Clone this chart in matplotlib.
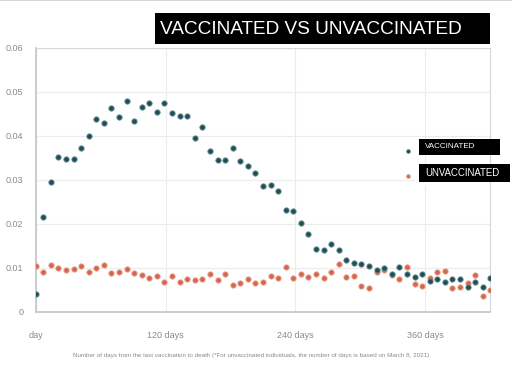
import matplotlib
matplotlib.use("Agg")
import matplotlib.pyplot as plt
import matplotlib.patches as mpatches

plt.rcParams['font.family'] = ['Liberation Sans', 'DejaVu Sans']

days = [7 * i for i in range(61)]
vaccinated = [0.0040, 0.0215, 0.0294, 0.0352, 0.0348, 0.0348, 0.0371, 0.0399, 0.0439, 0.0428,
              0.0464, 0.0443, 0.0479, 0.0434, 0.0466, 0.0474, 0.0455, 0.0474, 0.0451, 0.0445,
              0.0445, 0.0395, 0.0419, 0.0365, 0.0345, 0.0345, 0.0373, 0.0342, 0.0332, 0.0315,
              0.0286, 0.0288, 0.0274, 0.0231, 0.0229, 0.0202, 0.0177, 0.0143, 0.0140, 0.0154,
              0.0141, 0.0118, 0.0111, 0.0108, 0.0105, 0.0095, 0.0100, 0.0086, 0.0102, 0.0086,
              0.0080, 0.0086, 0.0070, 0.0075, 0.0068, 0.0074, 0.0075, 0.0056, 0.0068, 0.0056,
              0.0076]
unvaccinated = [0.0104, 0.0090, 0.0106, 0.0100, 0.0095, 0.0096, 0.0104, 0.0091, 0.0099, 0.0107,
                0.0087, 0.0090, 0.0097, 0.0087, 0.0083, 0.0076, 0.0081, 0.0068, 0.0082, 0.0068,
                0.0074, 0.0073, 0.0074, 0.0086, 0.0071, 0.0086, 0.0060, 0.0065, 0.0074, 0.0066,
                0.0067, 0.0082, 0.0077, 0.0101, 0.0077, 0.0086, 0.0080, 0.0086, 0.0077, 0.0091,
                0.0108, 0.0079, 0.0081, 0.0058, 0.0053, 0.0090, 0.0095, 0.0083, 0.0074, 0.0102,
                0.0064, 0.0058, 0.0076, 0.0090, 0.0092, 0.0055, 0.0056, 0.0066, 0.0084, 0.0035,
                0.0050]
x_ticks = [0, 120, 240, 360]
x_labels = ["day", "120 days", "240 days", "360 days"]
y_ticks = [0, 0.01, 0.02, 0.03, 0.04, 0.05, 0.06]
y_labels = ["0", "0.01", "0.02", "0.03", "0.04", "0.05", "0.06"]
title = "VACCINATED VS UNVACCINATED"
legend_labels = ["VACCINATED", "UNVACCINATED"]
footnote = ("Number of days from the last vaccination to death (*For unvaccinated individuals, "
            "the number of days is based on March 8, 2021)")

teal = "#1d4e56"
teal_edge = "#6f9599"
orange = "#d4664b"
orange_edge = "#eba693"

fig = plt.figure(figsize=(5.12, 3.91), dpi=100)
fig.patch.set_facecolor("white")
ax = fig.add_axes([0.0697, 0.2028, 0.8879, 0.6752])

ax.set_xlim(0, 420)
ax.set_ylim(0, 0.06)
ax.set_xticks(x_ticks)
ax.set_xticklabels(x_labels)
ax.set_yticks(y_ticks)
ax.set_yticklabels(y_labels)
ax.tick_params(axis='both', length=0, colors="#8a8a8a", labelsize=6.5)
ax.tick_params(axis='x', pad=14)
ax.tick_params(axis='y', pad=9)
ax.grid(True, color="#ececec", linewidth=0.8)
ax.set_axisbelow(True)
for side in ["top", "right"]:
    ax.spines[side].set_color("#d6d6d6")
    ax.spines[side].set_linewidth(0.8)
for side in ["left", "bottom"]:
    ax.spines[side].set_color("#c4c4c4")
    ax.spines[side].set_linewidth(1.2)

# white patch hiding part of the 0.03 gridline behind the legend
ax.add_patch(mpatches.Rectangle((350, 0.0285), 70, 0.003, transform=ax.transData,
                                facecolor="white", edgecolor="none", zorder=1.5))

ax.scatter(days, unvaccinated, s=15, color=orange, edgecolors=orange_edge, linewidths=0.6, zorder=3)
ax.scatter(days, vaccinated, s=15, color=teal, edgecolors=teal_edge, linewidths=0.6, zorder=4)

# Title box
fig.patches.append(mpatches.Rectangle((155 / 512, 1 - 44 / 391), 335 / 512, 31 / 391,
                                      transform=fig.transFigure, facecolor="black",
                                      edgecolor="none", zorder=5))
fig.text(160 / 512, 1 - 29 / 391, title, color="white", fontsize=13.7,
         ha="left", va="center", zorder=6)

# Legend boxes
fig.patches.append(mpatches.Rectangle((419 / 512, 1 - 155 / 391), 81 / 512, 16 / 391,
                                      transform=fig.transFigure, facecolor="black",
                                      edgecolor="none", zorder=5))
fig.text(425 / 512, 1 - 147 / 391, legend_labels[0], color="white", fontsize=5.8,
         ha="left", va="center", zorder=6)
fig.patches.append(mpatches.Rectangle((419 / 512, 1 - 182 / 391), 91 / 512, 18 / 391,
                                      transform=fig.transFigure, facecolor="black",
                                      edgecolor="none", zorder=5))
fig.text(425 / 512, 1 - 173 / 391, legend_labels[1], color="white", fontsize=6.9,
         ha="left", va="center", zorder=6)
fig.lines.append(plt.Line2D([408 / 512], [1 - 151 / 391], transform=fig.transFigure,
                            marker="o", markersize=2.8, color=teal, markeredgecolor=teal_edge,
                            markeredgewidth=0.5, linestyle="none"))
fig.lines.append(plt.Line2D([408 / 512], [1 - 176 / 391], transform=fig.transFigure,
                            marker="o", markersize=2.8, color=orange, markeredgecolor=orange_edge,
                            markeredgewidth=0.5, linestyle="none"))

fig.text(251 / 512, 1 - 356 / 391, footnote, color="#8a8a8a", fontsize=4.5,
         ha="center", va="center")

fig.lines.append(plt.Line2D([0, 1], [0.999, 0.999], transform=fig.transFigure,
                            color="#cfcfcf", linewidth=1.2))

fig.savefig("out.png", dpi=100, facecolor="white")
